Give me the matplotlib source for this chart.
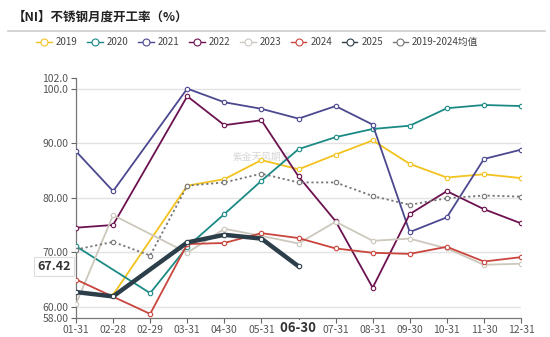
import numpy as np
import matplotlib
matplotlib.use('Agg')
import matplotlib.pyplot as plt
from matplotlib.lines import Line2D

plt.rcParams['font.family'] = ['Noto Sans CJK SC', 'DejaVu Sans']

# 数据
x_labels = ['01-31', '02-28', '02-29', '03-31', '04-30', '05-31', '06-30',
            '07-31', '08-31', '09-30', '10-31', '11-30', '12-31']
nan = np.nan
y2019 = [nan, 62.2, nan, 82.2, 83.4, 86.9, 85.2, 87.9, 90.5, 86.2, 83.7, 84.3, 83.6]
y2020 = [71.1, nan, 62.5, 71.0, 77.0, 83.1, 88.9, 91.1, 92.6, 93.2, 96.4, 97.0, 96.8]
y2021 = [88.5, 81.2, nan, 100.0, 97.5, 96.3, 94.5, 96.8, 93.4, 73.7, 76.4, 87.1, 88.8]
y2022 = [74.5, 75.0, nan, 98.6, 93.3, 94.2, 83.9, 75.7, 63.5, 77.0, 81.2, 77.9, 75.3]
y2023 = [60.5, 76.8, nan, 69.9, 74.3, 73.0, 71.6, 75.6, 72.1, 72.5, 70.7, 67.7, 67.9]
y2024 = [65.0, nan, 58.7, 71.5, 71.7, 73.5, 72.6, 70.7, 69.9, 69.7, 71.0, 68.3, 69.1]
y2025 = [62.7, 61.9, nan, 71.8, 73.2, 72.5, 67.42, nan, nan, nan, nan, nan, nan]
y_avg = [70.5, 71.9, 69.4, 82.2, 82.8, 84.4, 82.8, 82.8, 80.3, 78.7, 79.9, 80.4, 80.2]

series = [
    ('2019', y2019, '#f2c31f'),
    ('2020', y2020, '#1b8a85'),
    ('2021', y2021, '#4b4890'),
    ('2022', y2022, '#6d1250'),
    ('2023', y2023, '#cdc8bd'),
    ('2024', y2024, '#c9453d'),
    ('2025', y2025, '#2c3e4a'),
    ('2019-2024均值', y_avg, '#777777'),
]

fig = plt.figure(figsize=(5.5, 3.37), dpi=100)
ax = fig.add_axes([76 / 550, 1 - 317.7 / 337, (521 - 76) / 550, (317.7 - 77.7) / 337])

x = np.arange(len(x_labels))
for name, vals, color in series:
    v = np.array(vals, dtype=float)
    m = ~np.isnan(v)
    lw, ls, z = 1.3, '-', 3
    if name == '2025':
        lw, z = 3.2, 4
    if name.endswith('均值'):
        ls = (0, (1.2, 1.5))
    ax.plot(x[m], v[m], color=color, lw=lw, ls=ls, zorder=z,
            marker='o', ms=3.2, mfc='white', mec=color, mew=0.8)

ax.set_xlim(0, len(x_labels) - 1)
ax.set_ylim(58, 102)
yt = [58, 60, 70, 80, 90, 100, 102]
ax.set_yticks(yt)
ax.set_yticklabels(['58.00', '60.00', '70.00', '80.00', '90.00', '100.0', '102.0'])
ax.set_xticks(x)
shown = list(x_labels)
shown[6] = ''
ax.set_xticklabels(shown)
ax.tick_params(axis='both', labelsize=7.5, colors='#666666', length=3.5, width=0.8,
               pad=2, labelcolor='#555555')

for g in [60, 70, 80, 90, 100]:
    ax.axhline(g, color='#e2e2e2', lw=1.0, zorder=0)

for s in ['top', 'right']:
    ax.spines[s].set_visible(False)
for s in ['left', 'bottom']:
    ax.spines[s].set_color('#777777')
    ax.spines[s].set_linewidth(0.9)

# 悬停的标签
ax.text(6, 56.1, '  ' + x_labels[6] + '  ', ha='center', va='center', fontsize=9.5,
        fontweight='bold', color='#333333', zorder=10, clip_on=False,
        bbox=dict(boxstyle='square,pad=0.05', fc='white', ec='none'))
ax.text(-0.15, 67.42, '67.42', ha='right', va='center', fontsize=9, fontweight='bold',
        color='#333333', zorder=10, clip_on=False,
        bbox=dict(boxstyle='square,pad=0.25', fc='white', ec='#dddddd', lw=0.8))

# 水印
ax.text(5.0, 87.5, '紫金天风期货', ha='center', va='center', fontsize=7,
        color='#bbbbbb', alpha=0.6, zorder=1)

fig.text(13 / 550, 1 - 17 / 337, '【NI】不锈钢月度开工率（%）', fontsize=9,
         fontweight='bold', color='#222222', ha='left', va='center')
fig.add_artist(Line2D([8 / 550, 545 / 550], [1 - 31 / 337, 1 - 31 / 337],
                      color='#cccccc', lw=1.2))

handles = [Line2D([], [], color=c, lw=1.0, marker='o', ms=5, mfc='white', mec=c, mew=0.8)
           for _, _, c in series]
fig.legend(handles, [n for n, _, _ in series], loc='center', ncol=8,
           bbox_to_anchor=(0.468, 1 - 42 / 337), frameon=False, fontsize=7,
           handlelength=1.6, handletextpad=0.4, columnspacing=1.0,
           labelcolor='#444444')

fig.savefig('out.png', dpi=100)
